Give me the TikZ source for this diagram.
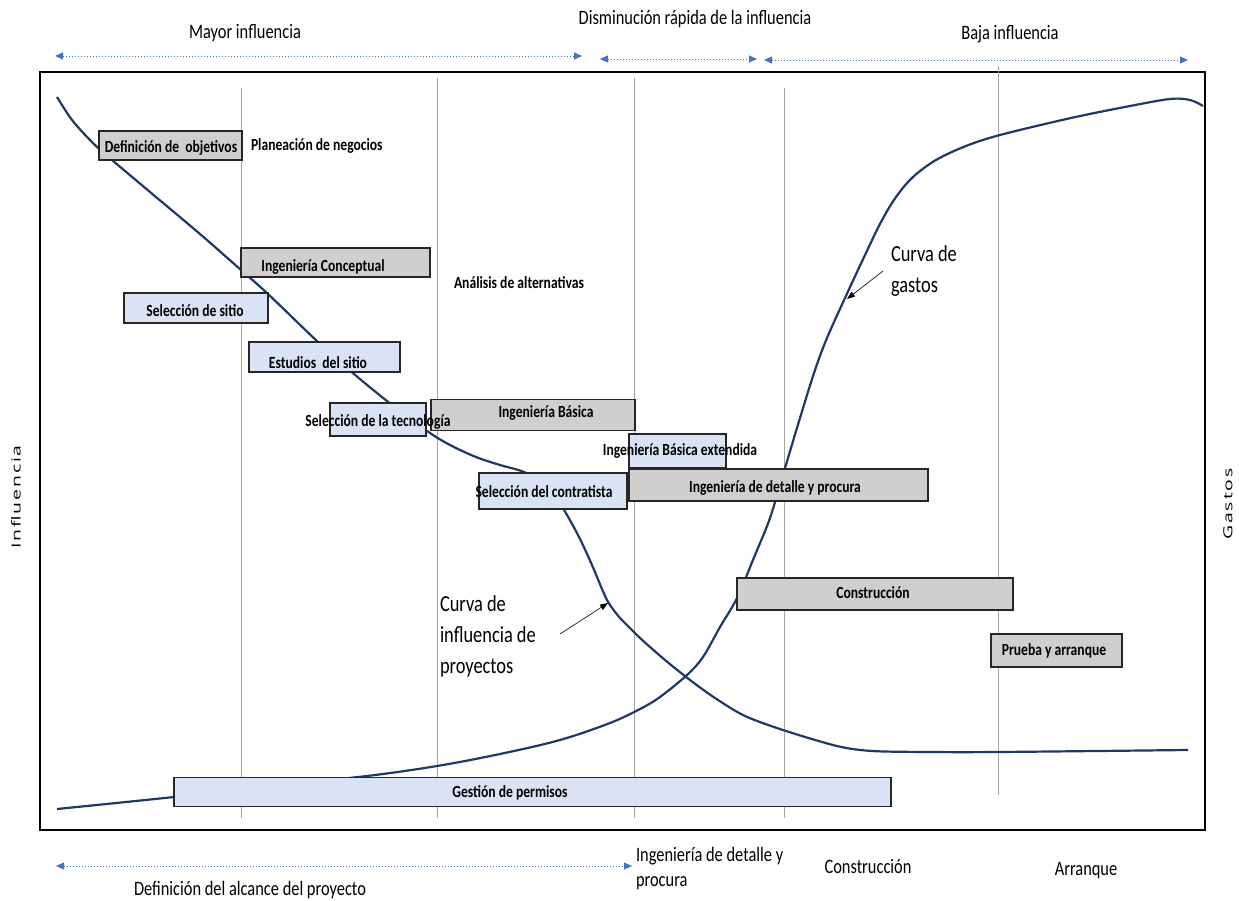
\documentclass[tikz,border=0pt]{standalone}
\usepackage{fontspec}
\setmainfont{Carlito}[FakeStretch=0.8]
\newfontfamily\sidefont{Open Sans}[FakeStretch=1.55, LetterSpace=15]
\usetikzlibrary{arrows.meta}

\definecolor{curvenavy}{HTML}{203864}
\definecolor{boxgray}{HTML}{D0CECE}
\definecolor{boxblue}{HTML}{DAE3F3}
\definecolor{boxline}{HTML}{262626}
\definecolor{gridgray}{HTML}{A6A6A6}
\definecolor{spanblue}{HTML}{4472C4}

\begin{document}
\begin{tikzpicture}[x=1pt,y=-1pt,
  every node/.style={inner sep=0pt, outer sep=0pt},
  frame/.style={line width=1.8pt, draw=black},
  gridline/.style={draw=gridgray, line width=0.8pt},
  curve/.style={draw=curvenavy, line width=2.2pt, line join=round},
  gbox/.style={draw=boxline, line width=1.3pt, fill=boxgray},
  bbox/.style={draw=boxline, line width=1.3pt, fill=boxblue},
  boxtext/.style={font=\fontsize{17}{20}\selectfont\bfseries},
  phaselabel/.style={font=\fontsize{20.5}{24}\selectfont},
  curvelabel/.style={font=\fontsize{23}{31}\selectfont, align=left},
  sidelabel/.style={font=\sidefont\fontsize{12.5}{15}\selectfont},
  span/.style={draw=spanblue, line width=0.9pt, dash pattern=on 1.5pt off 1.5pt,
    {Triangle[length=8pt,width=7pt]}-{Triangle[length=8pt,width=7pt]}},
  pointer/.style={draw=black, line width=0.6pt, -{Triangle[length=8pt,width=6pt]}}
]
\useasboundingbox (0,0) rectangle (1239,901);

% outer frame and vertical phase separators
\draw[frame] (40,72) rectangle (1205,830);
\draw[gridline] (241,88) -- (241,818);
\draw[gridline] (437,78) -- (437,818);
\draw[gridline] (634,78) -- (634,818);
\draw[gridline] (784,88) -- (784,818);
\draw[gridline] (998,66) -- (998,795);

% influence curve (two pieces with a kink)
\draw[curve] plot[smooth, tension=0.55] coordinates {
  (57,97) (72,120) (90,140) (105,154) (150,192) (200,234) (241,270)
  (268,294) (318,342) (354,374) (392,405) (427,431) (450,445) (476,457)
  (500,465) (524,472) (545,484) (561,505) (578,535) (592,565) (607,600) (620,618)};
\draw[curve] plot[smooth, tension=0.5] coordinates {
  (620,618) (640,638) (665,660) (690,680) (715,698) (745,716) (786,731)
  (837,746) (872,751) (930,752) (999,752) (1188,750)};

% spending curve
\draw[curve] plot[smooth, tension=0.55] coordinates {
  (57,809) (174,797) (270,786) (367,776) (437,766) (500,754) (560,740)
  (610,723) (640,709) (660,697) (687,675) (703,657) (720,627) (737,598)
  (755,555) (770,518) (785,468) (800,418) (815,370) (827,338) (845,298)
  (865,255) (881,222) (896,197) (913,177) (936,160) (966,146) (1000,135)
  (1071,118) (1130,106) (1170,99) (1190,100) (1203,106)};

% activity boxes
\node[gbox, minimum width=143pt, minimum height=29pt] (obj)  at (170.5,145.5) {};
\node[gbox, minimum width=189pt, minimum height=29pt] (conc) at (335.5,262.5) {};
\node[bbox, minimum width=144pt, minimum height=30pt] (sit)  at (196,308) {};
\node[bbox, minimum width=151pt, minimum height=30pt] (est)  at (324.5,357) {};
\node[gbox, minimum width=204pt, minimum height=31pt] (bas)  at (533,415) {};
\node[bbox, minimum width=96pt,  minimum height=33pt] (tec)  at (378,419.5) {};
\node[bbox, minimum width=97pt,  minimum height=34pt] (ext)  at (677.5,451) {};
\node[gbox, minimum width=299pt, minimum height=32pt] (det)  at (778.5,485) {};
\node[bbox, minimum width=148pt, minimum height=36pt] (con)  at (553,491) {};
\node[gbox, minimum width=276pt, minimum height=32pt] (cons) at (875,594) {};
\node[gbox, minimum width=131pt, minimum height=33pt] (pru)  at (1056.5,650.5) {};
\node[bbox, minimum width=717pt, minimum height=29pt] (perm) at (532.5,792) {};

% box captions
\node[boxtext] (objt)  at (171,148) {Definición de\ \ objetivos};
\node[boxtext] (conct) at (323,267) {Ingeniería Conceptual};
\node[boxtext] (sitt)  at (195,311) {Selección de sitio};
\node[boxtext] (estt)  at (318,363) {Estudios\ \ del sitio};
\node[boxtext] (tect)  at (378,422) {Selección de la tecnología};
\node[boxtext] (bast)  at (546,413) {Ingeniería Básica};
\node[boxtext] (extt)  at (680,451) {Ingeniería Básica extendida};
\node[boxtext] (dett)  at (775,488) {Ingeniería de detalle y procura};
\node[boxtext] (cont)  at (544,492) {Selección del contratista};
\node[boxtext] (const) at (873,593) {Construcción};
\node[boxtext] (prut)  at (1054,651) {Prueba y arranque};
\node[boxtext] (permt) at (510,793) {Gestión de permisos};
\node[boxtext, anchor=west] (plan) at (251,146) {Planeación de negocios};
\node[boxtext, anchor=west] (alt)  at (454,283) {Análisis de alternativas};

% curve labels with pointers
\node[curvelabel, anchor=north west] (gastos) at (891,246) {Curva de\\gastos};
\coordinate (gastosTip) at (847,299);
\draw[pointer] (883,271) -- (gastosTip);
\node[curvelabel, anchor=north west] (influ) at (440,596) {Curva de\\influencia de\\proyectos};
\coordinate (influTip) at (608,603);
\draw[pointer] (560,634) -- (influTip);

% axis titles
\node[sidelabel, rotate=90] (yl) at (16,497) {Influencia};
\node[sidelabel, rotate=90] (yr) at (1228,504) {Gastos};

% influence spans above the chart
\coordinate (s1a) at (55,56);  \coordinate (s1b) at (582,56);
\coordinate (s2a) at (600,59); \coordinate (s2b) at (757,59);
\coordinate (s3a) at (764,60); \coordinate (s3b) at (1188,60);
\draw[span] (s1a) -- (s1b);
\draw[span] (s2a) -- (s2b);
\draw[span] (s3a) -- (s3b);
\node[phaselabel] (mayor) at (245,33) {Mayor influencia};
\node[phaselabel] (dism)  at (695,19) {Disminución rápida de la influencia};
\node[phaselabel] (baja)  at (1010,34) {Baja influencia};

% project stages below the chart
\coordinate (b1a) at (56,866); \coordinate (b1b) at (632,866);
\draw[span] (b1a) -- (b1b);
\node[phaselabel] (alc) at (250,890) {Definición del alcance del proyecto};
\node[phaselabel, anchor=west, align=left, font=\fontsize{20.5}{25}\selectfont] (ingd) at (636,869) {Ingeniería de detalle y\\procura};
\node[phaselabel] (cnst) at (868,867) {Construcción};
\node[phaselabel] (arr)  at (1086,871) {Arranque};
\end{tikzpicture}
\end{document}
